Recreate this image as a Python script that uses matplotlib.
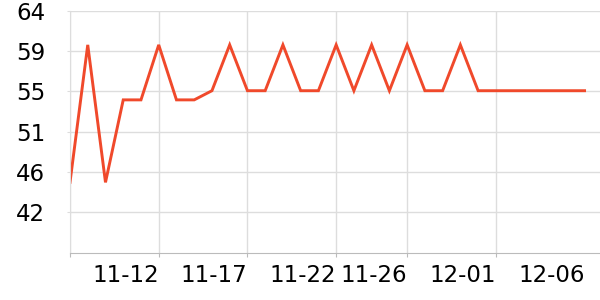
import datetime
import matplotlib
matplotlib.use("Agg")
import matplotlib.pyplot as plt
import matplotlib.dates as mdates
from matplotlib.transforms import ScaledTranslation

# daily values, 11-07 .. 12-06
start = datetime.date(2023, 11, 7)
values = [45, 60, 45, 54, 54, 60, 54, 54, 55, 60,
          55, 55, 60, 55, 55, 60, 55, 60, 55, 60,
          55, 55, 60, 55, 55, 55, 55, 55, 55, 55]
days = [start + datetime.timedelta(days=i) for i in range(len(values))]

tick_days = ["11-07", "11-12", "11-17", "11-22", "11-26", "12-01", "12-06"]
y_ticks = [41.75, 46.15, 50.55, 54.95, 59.35, 63.75]

fig = plt.figure(figsize=(6, 3), dpi=100)
ax = fig.add_axes([70 / 600, 1 - 252.5 / 300, 530 / 600, 242 / 300])

ax.plot(days, values, color="#f0492b", lw=2.1, solid_joinstyle="miter")

ax.set_ylim(37.35, 63.75)
ax.set_yticks(y_ticks)
ax.set_yticklabels([f"{v:.0f}" for v in y_ticks])

xt = [datetime.date(2023, int(s[:2]), int(s[3:])) for s in tick_days]
ax.set_xlim(mdates.date2num(start), mdates.date2num(start) + 29.87)
ax.set_xticks(xt)
ax.set_xticklabels([""] + tick_days[1:])
for lab in ax.get_xticklabels():
    lab.set_horizontalalignment("right")
last = ax.get_xticklabels()[-1]
last.set_transform(last.get_transform() + ScaledTranslation(16 / 100, 0, fig.dpi_scale_trans))

ax.grid(True, color="#dddddd", lw=1)
ax.get_xgridlines()[-1].set_visible(False)
ax.xaxis.get_major_ticks()[-1].tick1line.set_visible(False)

for s in ("top", "right"):
    ax.spines[s].set_visible(False)
ax.spines["left"].set_color("#dddddd")
ax.spines["bottom"].set_color("#bbbbbb")
ax.tick_params(axis="x", length=3, color="#bbbbbb", labelsize=16.5, pad=5)
ax.tick_params(axis="y", length=2, color="#dddddd", labelsize=16.5, pad=16)
ax.set_axisbelow(True)

fig.savefig("out.png", dpi=100)
